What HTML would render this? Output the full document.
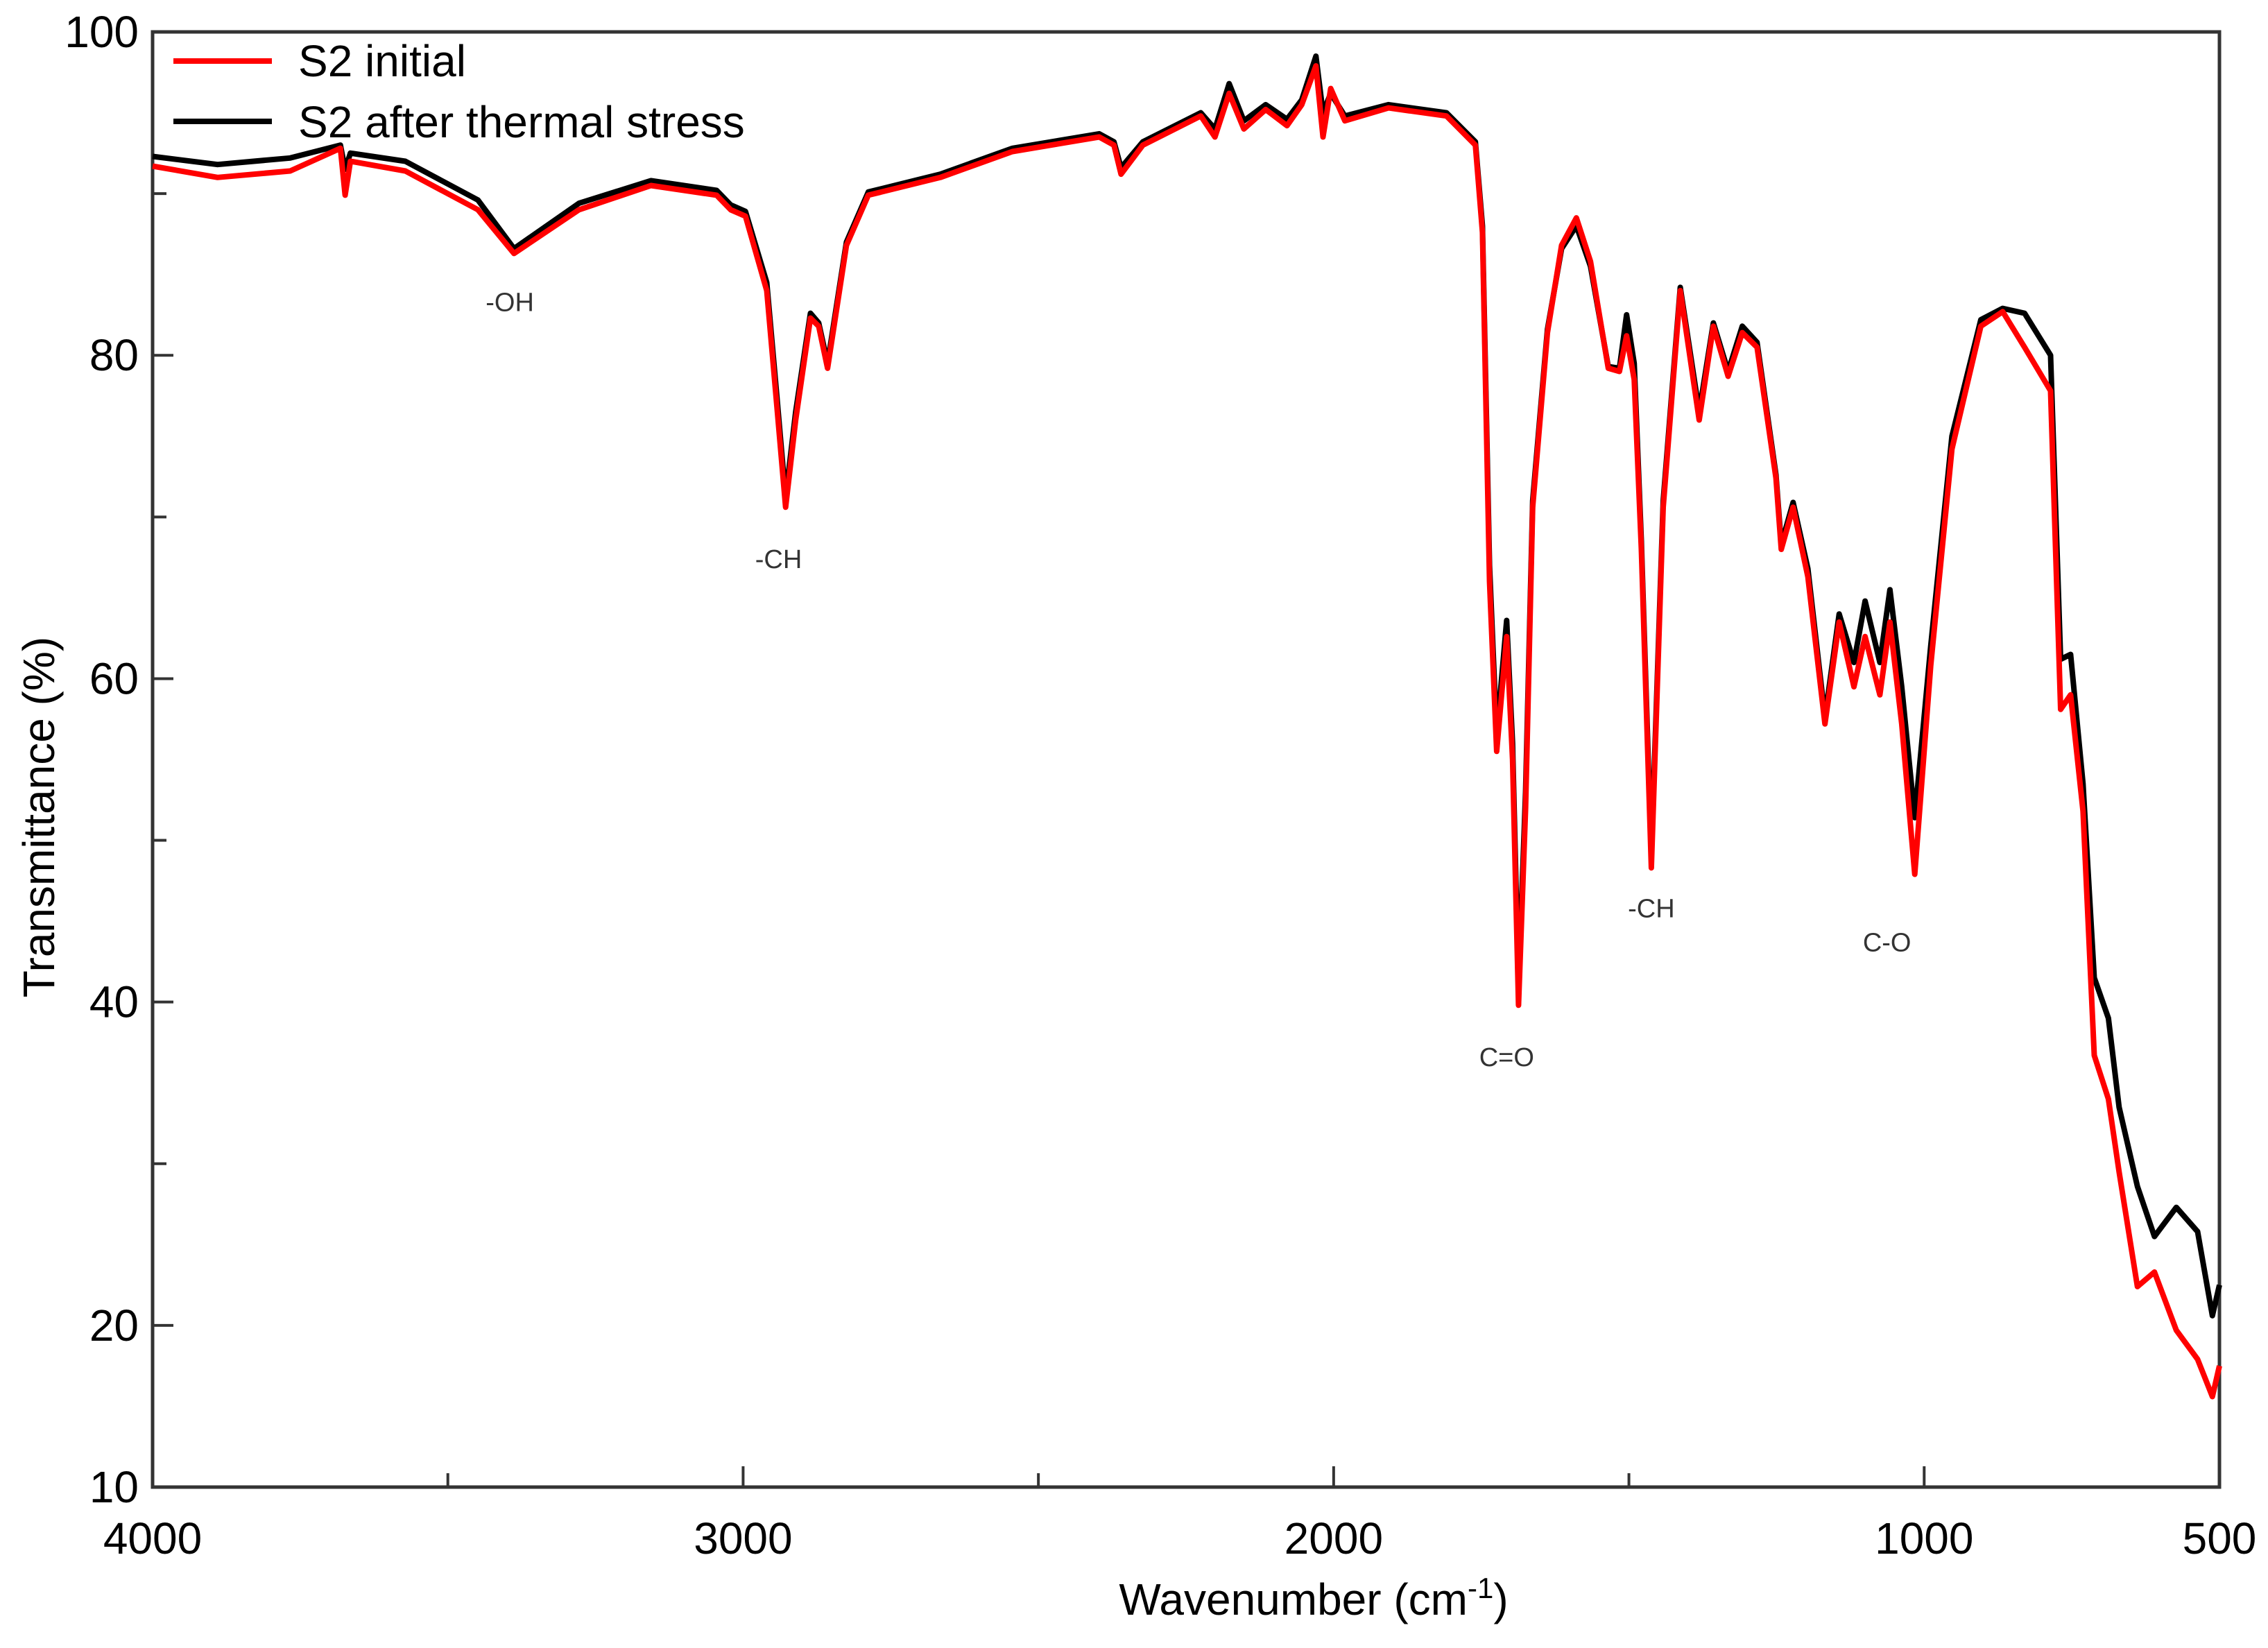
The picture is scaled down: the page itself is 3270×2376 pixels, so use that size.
<!DOCTYPE html>
<html><head><meta charset="utf-8"><style>
html,body{margin:0;padding:0;background:#fff;}
svg{display:block;font-family:"Liberation Sans",Arial,sans-serif;}
</style></head><body>
<svg id="chart" width="3270" height="2376" viewBox="0 0 3270 2376" xmlns="http://www.w3.org/2000/svg">
<g id="axes"></g>
<g id="series"></g>
<g id="labels"></g>
</svg>
<script>
const wavenumbers=[4000,3890,3767,3682,3674,3665,3572,3449,3388,3278,3156,3045,3021,2996,2960,2943,2928,2911,2886,2872,2857,2825,2788,2666,2544,2397,2372,2360,2323,2225,2201,2177,2152,2115,2079,2054,2030,2018,2005,1981,1907,1809,1760,1748,1736,1724,1707,1697,1687,1675,1663,1638,1614,1589,1565,1535,1516,1504,1491,1479,1462,1442,1413,1381,1357,1332,1308,1283,1251,1242,1222,1197,1168,1144,1119,1100,1075,1058,1038,1016,989,953,904,867,830,786,769,752,731,712,688,670,639,610,573,537,512,500];
const s2Initial=[91.7,91.0,91.4,92.8,89.9,92.0,91.4,89.0,86.3,89.0,90.5,89.9,89.0,88.6,84.0,76.9,70.6,76.0,82.3,81.8,79.2,86.8,89.9,91.0,92.6,93.5,93.0,91.2,93.0,94.8,93.5,96.2,94.0,95.2,94.2,95.5,97.9,93.5,96.5,94.5,95.3,94.8,93.0,87.6,66.0,55.5,62.6,55.0,39.8,52.0,70.6,81.4,86.8,88.5,85.8,79.2,79.0,81.2,78.5,68.0,48.3,70.6,84.0,76.0,81.8,78.7,81.4,80.5,72.4,68.0,70.6,66.3,57.2,63.5,59.5,62.6,59.0,63.5,57.2,47.9,60.8,74.2,81.8,82.7,80.5,77.8,58.1,59.0,51.8,36.7,34.0,29.5,22.4,23.3,19.7,17.9,15.6,17.5];
const s2Thermal=[92.3,91.8,92.2,93.0,91.5,92.5,92.0,89.6,86.6,89.4,90.8,90.2,89.3,88.9,84.5,77.5,71.2,76.5,82.6,82.0,79.5,87.0,90.1,91.2,92.8,93.7,93.2,91.6,93.2,95.0,94.0,96.8,94.5,95.5,94.6,95.8,98.5,95.0,96.2,94.8,95.5,95.0,93.2,88.0,67.0,56.5,63.6,56.0,41.0,53.0,71.0,81.6,86.6,88.0,85.5,79.3,79.2,82.5,79.5,68.5,49.0,71.0,84.2,76.5,82.0,79.0,81.8,80.8,72.6,68.3,70.9,66.8,57.6,64.0,61.0,64.8,61.0,65.5,59.5,51.4,62.0,75.0,82.2,82.9,82.6,80.0,61.2,61.5,53.5,41.5,39.0,33.5,28.6,25.5,27.3,25.8,20.6,22.5];
const xTickLabels=[4000,3000,2000,1000,500];
const xMinorTicks=[3500,2500,1500];
const yTickLabels=[10,20,40,60,80,100];
const yMinorTicks=[30,50,70,90];
const peakLabels=["-OH","-CH","C=O","-CH","C-O"];
const peakLabelWn=[3395,2940,1707,1462,1063];
const peakLabelT=[83.3,67.4,36.6,45.8,43.7];

const L=220,R=3200,T=46,B=2144;
const x=v=>L+(4000-v)/(4000-500)*(R-L);
const y=v=>B-(v-10)/(100-10)*(B-T);
const NS="http://www.w3.org/2000/svg";
function mk(tag,parent,attrs){const e=document.createElementNS(NS,tag);for(const k in attrs)e.setAttribute(k,attrs[k]);parent.appendChild(e);return e;}
const ax=document.getElementById('axes'),se=document.getElementById('series'),lb=document.getElementById('labels');

let fr=mk('rect',ax,{x:L,y:T,width:R-L,height:B-T,fill:'none',stroke:'#333','stroke-width':5});



xTickLabels.forEach(v=>{
  const t=mk('line',ax,{x1:x(v),x2:x(v),y1:B,y2:B-30,stroke:'#333','stroke-width':4});
  
  
  const tx=mk('text',lb,{x:x(v),y:2240,'font-size':64,'text-anchor':'middle',fill:'#000'});
  tx.textContent=v;
  
  
});
xMinorTicks.forEach(v=>{
  const t=mk('line',ax,{x1:x(v),x2:x(v),y1:B,y2:B-20,stroke:'#333','stroke-width':4});
  
  
});
yTickLabels.forEach(v=>{
  const t=mk('line',ax,{x1:L,x2:L+30,y1:y(v),y2:y(v),stroke:'#333','stroke-width':4});
  
  
  const tx=mk('text',lb,{x:200,y:y(v)+22,'font-size':64,'text-anchor':'end',fill:'#000'});
  tx.textContent=v;
  
  
});
yMinorTicks.forEach(v=>{
  const t=mk('line',ax,{x1:L,x2:L+20,y1:y(v),y2:y(v),stroke:'#333','stroke-width':4});
  
  
});

function drawLine(vals,color,name){
  const d=wavenumbers.map((w,i)=>(i?'L':'M')+x(w).toFixed(1)+','+y(vals[i]).toFixed(1)).join(' ');
  const p=mk('path',se,{d:d,fill:'none',stroke:color,'stroke-width':8,'stroke-linejoin':'round'});
  
  
}
drawLine(s2Thermal,'#000','line-s2-after-thermal-stress');
drawLine(s2Initial,'#ff0000','line-s2-initial');

peakLabels.forEach((s,i)=>{
  const tx=mk('text',lb,{x:x(peakLabelWn[i]),y:y(peakLabelT[i])+13,'font-size':38,'text-anchor':'middle',fill:'#333'});
  tx.textContent=s;
  
  
});

const l1=mk('line',lb,{x1:250,x2:392,y1:88,y2:88,stroke:'#ff0000','stroke-width':8});


const t1=mk('text',lb,{x:430,y:110,'font-size':64,fill:'#000'});t1.textContent='S2 initial';


const l2=mk('line',lb,{x1:250,x2:392,y1:175,y2:175,stroke:'#000','stroke-width':8});


const t2=mk('text',lb,{x:430,y:198,'font-size':64,fill:'#000'});t2.textContent='S2 after thermal stress';



const xt=mk('text',lb,{x:1894,y:2328,'font-size':64,'text-anchor':'middle',fill:'#000'});
xt.innerHTML='Wavenumber (cm<tspan dy="-24" font-size="42">-1</tspan><tspan dy="24">)</tspan>';


const yt=mk('text',lb,{x:0,y:0,'font-size':64,'text-anchor':'middle',fill:'#000',transform:'translate(78,1178) rotate(-90)'});
yt.textContent='Transmittance (%)';


</script>
</body></html>
